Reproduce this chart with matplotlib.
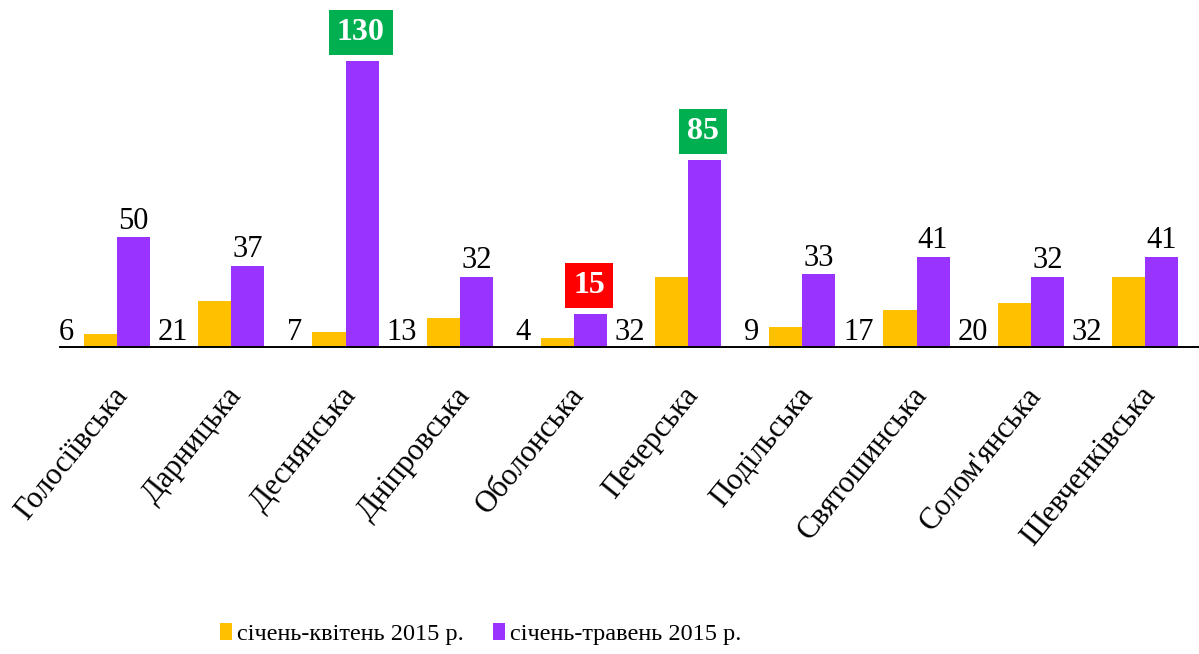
import matplotlib.pyplot as plt
import matplotlib.transforms as mtransforms
import numpy as np

districts = ['Голосіївська', 'Дарницька', 'Деснянська', 'Дніпровська', 'Оболонська',
             'Печерська', 'Подільська', 'Святошинська', "Солом'янська", 'Шевченківська']
jan_apr = [6, 21, 7, 13, 4, 32, 9, 17, 20, 32]
jan_may = [50, 37, 130, 32, 15, 85, 33, 41, 32, 41]
series_names = ['січень-квітень 2015 р.', 'січень-травень 2015 р.']
# labels on the second series that get a coloured box
highlight = {2: '#00B050', 5: '#00B050', 4: '#FF0000'}

c_orange = '#FFC000'
c_purple = '#9933FF'

plt.rcParams['font.family'] = ['Liberation Serif', 'DejaVu Serif']

fig = plt.figure(figsize=(11.99, 6.54), dpi=100)
ax = fig.add_axes([60 / 1199, 1 - 347 / 654, 1142 / 1199, 347 / 654])

x = np.arange(len(districts))
w = 0.29
b1 = ax.bar(x - w / 2, jan_apr, w, color=c_orange, label=series_names[0])
b2 = ax.bar(x + w / 2, jan_may, w, color=c_purple, label=series_names[1])

# first series labels sit at the baseline, left of the bar
for xi, v in zip(x, jan_apr):
    ax.annotate(str(v), (xi - w, 0), xytext=(-7, 0), textcoords='offset points',
                ha='right', va='bottom', fontsize=22)

for i, (xi, v) in enumerate(zip(x + w / 2, jan_may)):
    if i in highlight:
        ax.annotate(str(v), (xi, v), xytext=(-1, 10), textcoords='offset points',
                    ha='center', va='bottom', fontsize=23, fontweight='bold', color='white',
                    bbox=dict(boxstyle='square,pad=0.25', fc=highlight[i], ec='none'))
    else:
        ax.annotate(str(v), (xi, v), xytext=(0, 1), textcoords='offset points',
                    ha='center', va='bottom', fontsize=22)

ax.set_xlim(-0.5, len(districts) - 0.5)
ax.set_ylim(0, 347 / 2.2)
ax.set_yticks([])
ax.set_xticks(x)
ax.set_xticklabels(districts, rotation=51, ha='right', rotation_mode='anchor', fontsize=22)
ax.tick_params(axis='x', length=0, pad=22)
shift = mtransforms.ScaledTranslation(-6 / 100, -4 / 100, fig.dpi_scale_trans)
for lbl in ax.get_xticklabels():
    lbl.set_transform(lbl.get_transform() + shift)
for s in ['top', 'left', 'right']:
    ax.spines[s].set_visible(False)
ax.spines['bottom'].set_linewidth(1.4)

fig.legend(handles=[b1, b2], loc='center left', bbox_to_anchor=(220 / 1199, 1 - 634 / 654),
           ncol=2, frameon=False, fontsize=17.5, handlelength=0.5, handleheight=0.7,
           handletextpad=0.2, columnspacing=1.2, borderpad=0, borderaxespad=0)

fig.savefig('out.png', dpi=100)
